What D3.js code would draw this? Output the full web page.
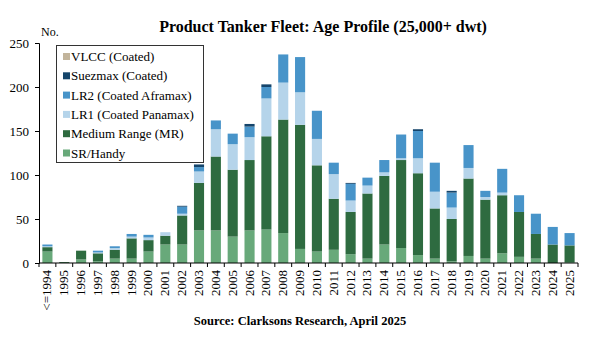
<!DOCTYPE html>
<html>
<head>
<meta charset="utf-8">
<script src="https://cdn.jsdelivr.net/npm/d3@7"></script>
<style>
  body { margin: 0; background: #fff; }
  svg text { font-family: "Liberation Serif", "Times New Roman", serif; }
</style>
</head>
<body>
<div id="chart"></div>
<script>
const years = ['<=1994', '1995', '1996', '1997', '1998', '1999', '2000', '2001', '2002', '2003',
  '2004', '2005', '2006', '2007', '2008', '2009', '2010', '2011', '2012', '2013', '2014',
  '2015', '2016', '2017', '2018', '2019', '2020', '2021', '2022', '2023', '2024', '2025'];

const srHandy  = [13, 0, 4, 2, 5, 5, 13, 21, 21, 37, 37, 30, 37, 38, 34, 16, 13, 15, 10, 5, 21, 17, 9, 5, 2, 8, 5, 11, 7, 5, 0, 1];
const mr       = [5, 1, 10, 9, 10, 23, 13, 10, 33, 54, 84, 76, 80, 106, 129, 141, 98, 58, 48, 74, 78, 100, 93, 57, 48, 88, 67, 66, 51, 28, 21, 19];
const lr1      = [1, 0, 0, 1, 2, 2, 3, 4, 2, 13, 31, 29, 26, 43, 42, 37, 30, 28, 13, 9, 4, 2, 17, 19, 13, 12, 3, 3, 0, 0, 0, 0];
const lr2      = [2, 0, 0, 2, 2, 3, 3, 0, 8, 5, 10, 12, 12, 13, 32, 40, 32, 13, 19, 9, 14, 27, 31, 33, 17, 26, 7, 27, 19, 23, 20, 14];
const suezmax  = [0, 0, 0, 0, 0, 0, 0, 0, 1, 3, 0, 0, 3, 3, 0, 0, 0, 0, 1, 0, 0, 0, 2, 0, 2, 0, 0, 0, 0, 0, 0, 0];
const vlcc     = [0, 0, 0, 0, 0, 0, 0, 0, 0, 0, 0, 0, 0, 0, 0, 0, 0, 0, 0, 0, 0, 0, 0, 0, 0, 0, 0, 0, 0, 0, 0, 0];

const seriesNames = ['SR/Handy', 'Medium Range (MR)', 'LR1 (Coated Panamax)', 'LR2 (Coated Aframax)', 'Suezmax (Coated)', 'VLCC (Coated)'];
const seriesValues = [srHandy, mr, lr1, lr2, suezmax, vlcc];
const colors = ['#68a97a', '#2e6b40', '#b5d4ea', '#4894c9', '#15456b', '#c2b49b'];
const yTicks = [0, 50, 100, 150, 200, 250];

const width = 590;
const height = 339;
const margin = { top: 43, right: 12, bottom: 76, left: 39 };

const rows = years.map((y, i) => {
  const r = { year: y };
  seriesNames.forEach((s, j) => r[s] = seriesValues[j][i]);
  return r;
});

const stacked = d3.stack().keys(seriesNames)(rows);

const svg = d3.select('#chart')
  .append('svg')
  .attr('width', width)
  .attr('height', height);

const x = d3.scaleBand()
  .domain(years)
  .range([margin.left, width - margin.right])
  .paddingInner(0.4)
  .paddingOuter(0.2);

const y = d3.scaleLinear()
  .domain([0, 250])
  .range([height - margin.bottom, margin.top]);

svg.append('g')
  .selectAll('g')
  .data(stacked)
  .join('g')
    .attr('fill', (d, i) => colors[i])
  .selectAll('rect')
  .data(d => d)
  .join('rect')
    .attr('x', d => x(d.data.year))
    .attr('y', d => y(d[1]))
    .attr('height', d => y(d[0]) - y(d[1]))
    .attr('width', x.bandwidth());

// y axis
const yAxis = svg.append('g')
  .attr('transform', `translate(${margin.left},0)`)
  .call(d3.axisLeft(y).tickValues(yTicks).tickSize(4).tickPadding(6));
yAxis.selectAll('text').attr('font-size', 13).attr('fill', '#000');
yAxis.selectAll('line, path').attr('stroke', '#000');

// x axis: ticks sit between the bars
const xAxis = svg.append('g')
  .attr('transform', `translate(0,${height - margin.bottom})`);
xAxis.append('line')
  .attr('x1', margin.left).attr('x2', width - margin.right)
  .attr('stroke', '#000');
const edges = d3.range(years.length + 1).map(i => margin.left + (width - margin.right - margin.left) * i / years.length);
xAxis.selectAll('.edge')
  .data(edges)
  .join('line')
    .attr('class', 'edge')
    .attr('x1', d => d).attr('x2', d => d)
    .attr('y1', 0).attr('y2', 4)
    .attr('stroke', '#000');
xAxis.selectAll('.lbl')
  .data(years)
  .join('text')
    .attr('class', 'lbl')
    .attr('transform', d => `translate(${x(d) + x.bandwidth() / 2 + 4},7) rotate(-90)`)
    .attr('text-anchor', 'end')
    .attr('font-size', 13)
    .text(d => d);

svg.append('text')
  .attr('x', 41)
  .attr('y', 36)
  .attr('font-size', 12)
  .text('No.');

svg.append('text')
  .attr('x', 323)
  .attr('y', 32)
  .attr('text-anchor', 'middle')
  .attr('font-size', 16)
  .attr('font-weight', 'bold')
  .text('Product Tanker Fleet: Age Profile (25,000+ dwt)');

svg.append('text')
  .attr('x', 300)
  .attr('y', 325)
  .attr('text-anchor', 'middle')
  .attr('font-size', 12.5)
  .attr('font-weight', 'bold')
  .text('Source: Clarksons Research, April 2025');

// legend
const legend = svg.append('g');
legend.append('rect')
  .attr('x', 56.5).attr('y', 45.5)
  .attr('width', 147).attr('height', 117)
  .attr('fill', '#fff')
  .attr('stroke', '#333');
const legendOrder = d3.range(seriesNames.length).reverse();
const item = legend.selectAll('.item')
  .data(legendOrder)
  .join('g')
    .attr('class', 'item')
    .attr('transform', (d, i) => `translate(63,${57 + i * 19.3})`);
item.append('rect')
  .attr('x', 0).attr('y', -4)
  .attr('width', 7).attr('height', 7)
  .attr('fill', d => colors[d]);
item.append('text')
  .attr('x', 8)
  .attr('y', 4)
  .attr('font-size', 13)
  .text(d => seriesNames[d]);
</script>
</body>
</html>
